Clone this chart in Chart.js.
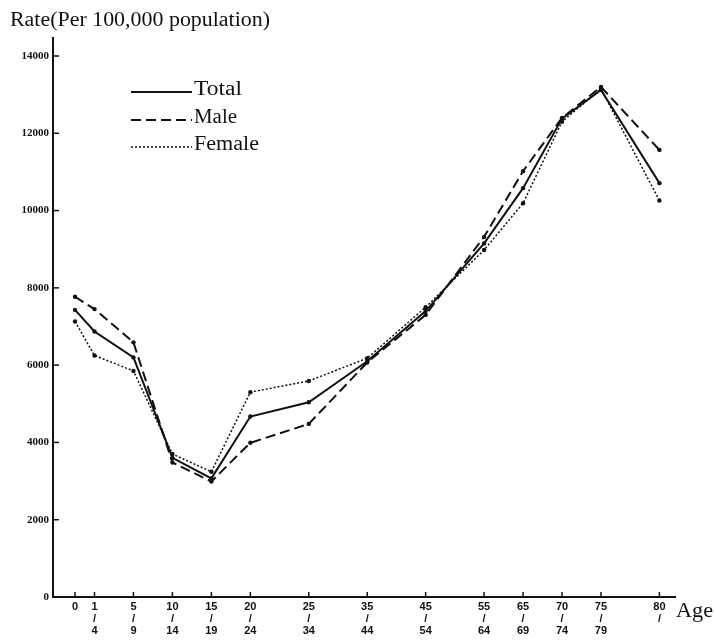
<!DOCTYPE html>
<html>
<head>
<meta charset="utf-8">
<script src="https://cdn.jsdelivr.net/npm/chart.js@4.4.1/dist/chart.umd.min.js"></script>
<style>
  html, body { margin: 0; padding: 0; background: #fff; }
  #wrap { width: 715px; height: 640px; position: relative; }
</style>
</head>
<body>
<div id="wrap"><canvas id="c" width="715" height="640"></canvas></div>
<script>
// Age groups (labels under the x axis, one line per entry)
const ageLabels = [
  ['0'], ['1','/','4'], ['5','/','9'], ['10','/','14'], ['15','/','19'],
  ['20','/','24'], ['25','/','34'], ['35','/','44'], ['45','/','54'],
  ['55','/','64'], ['65','/','69'], ['70','/','74'], ['75','/','79'], ['80','/']
];
// Position of each age group along the (non-uniform) age axis, in axis units
const ageAxisPos = [0, 0.5, 1.5, 2.5, 3.5, 4.5, 6, 7.5, 9, 10.5, 11.5, 12.5, 13.5, 15];

// Rate per 100,000 population
const totalRate  = [7430, 6870, 6200, 3600, 3070, 4670, 5040, 6100, 7400, 9150, 10580, 12380, 13120, 10710];
const maleRate   = [7770, 7450, 6590, 3480, 2990, 3990, 4480, 6070, 7300, 9320, 11020, 12400, 13200, 11570];
const femaleRate = [7130, 6250, 5850, 3700, 3240, 5300, 5590, 6180, 7500, 8980, 10190, 12300, 13150, 10260];

const yTicks = [0, 2000, 4000, 6000, 8000, 10000, 12000, 14000];

const seriesNames = ['Total', 'Male', 'Female'];

const INK = '#111';
const SERIF = '"Liberation Serif", "DejaVu Serif", serif';

function pts(vals) { return vals.map((v, i) => ({ x: ageAxisPos[i], y: v })); }

const lineStyles = [
  { borderWidth: 2, borderDash: [] },
  { borderWidth: 2, borderDash: [10, 5] },
  { borderWidth: 1.5, borderDash: [2, 2] }
];

const datasets = [totalRate, maleRate, femaleRate].map((vals, k) => ({
  label: seriesNames[k],
  data: pts(vals),
  borderColor: INK,
  backgroundColor: INK,
  borderWidth: lineStyles[k].borderWidth,
  borderDash: lineStyles[k].borderDash,
  pointRadius: 2.2,
  pointBackgroundColor: INK,
  pointBorderWidth: 0,
  tension: 0,
  fill: false
}));

// draw text stretched horizontally to a given width
function fitText(ctx, text, x, y, width) {
  const w = ctx.measureText(text).width;
  ctx.save();
  ctx.translate(x, y);
  ctx.scale(width / w, 1);
  ctx.fillText(text, 0, 0);
  ctx.restore();
}

const decor = {
  id: 'decor',
  afterDraw(chart) {
    const ctx = chart.ctx;
    const xs = chart.scales.x, ys = chart.scales.y;
    ctx.save();
    ctx.strokeStyle = INK;
    ctx.lineWidth = 1.5;
    // inward tick marks
    ageAxisPos.forEach(v => {
      const px = xs.getPixelForValue(v);
      ctx.beginPath(); ctx.moveTo(px, ys.bottom); ctx.lineTo(px, ys.bottom - 5); ctx.stroke();
    });
    yTicks.forEach(v => {
      if (v === 0) return;
      const py = ys.getPixelForValue(v);
      ctx.beginPath(); ctx.moveTo(xs.left, py); ctx.lineTo(xs.left + 6, py); ctx.stroke();
    });
    // title
    ctx.fillStyle = INK;
    ctx.textAlign = 'left';
    ctx.textBaseline = 'alphabetic';
    ctx.font = '20px ' + SERIF;
    fitText(ctx, 'Rate(Per 100,000 population)', 10, 26, 260);
    // Age label
    ctx.font = '21px ' + SERIF;
    fitText(ctx, 'Age', 676, 617, 37);
    // legend
    const legY = [92, 120, 147];
    const legW = [48, 43, 65];
    datasets.forEach((d, k) => {
      ctx.beginPath();
      ctx.lineWidth = d.borderWidth;
      ctx.setLineDash(d.borderDash);
      ctx.moveTo(131, legY[k]);
      ctx.lineTo(192, legY[k]);
      ctx.stroke();
      ctx.setLineDash([]);
      ctx.font = '20px ' + SERIF;
      ctx.textBaseline = 'middle';
      fitText(ctx, d.label, 194, legY[k] - 2, legW[k]);
    });
    ctx.restore();
  }
};

new Chart(document.getElementById('c'), {
  type: 'line',
  data: { datasets },
  options: {
    responsive: false,
    animation: false,
    devicePixelRatio: 1,
    layout: { padding: { top: 38, right: 40, left: 0, bottom: 0 } },
    plugins: { legend: { display: false }, tooltip: { enabled: false }, title: { display: false } },
    scales: {
      x: {
        type: 'linear',
        min: -0.565,
        max: 15.4,
        grid: { display: false, drawTicks: false },
        border: { display: true, color: INK, width: 2 },
        afterBuildTicks(scale) { scale.ticks = ageAxisPos.map(v => ({ value: v })); },
        afterFit(scale) { scale.height = 43; },
        ticks: {
          autoSkip: false,
          maxRotation: 0,
          padding: 4,
          color: INK,
          font: { family: '"Liberation Sans", Arial, sans-serif', size: 11, weight: 'bold', lineHeight: 1.1 },
          callback(value) {
            const i = ageAxisPos.indexOf(value);
            return i >= 0 ? ageLabels[i] : '';
          }
        }
      },
      y: {
        type: 'linear',
        min: 0,
        max: 14466,
        grid: { display: false, drawTicks: false },
        border: { display: true, color: INK, width: 2 },
        afterBuildTicks(scale) { scale.ticks = yTicks.map(v => ({ value: v })); },
        afterFit(scale) { scale.width = 53; },
        ticks: {
          padding: 4,
          color: INK,
          font: { family: SERIF, size: 11, weight: 'bold' },
          callback(value) { return String(value); }
        }
      }
    }
  },
  plugins: [decor]
});
</script>
</body>
</html>
